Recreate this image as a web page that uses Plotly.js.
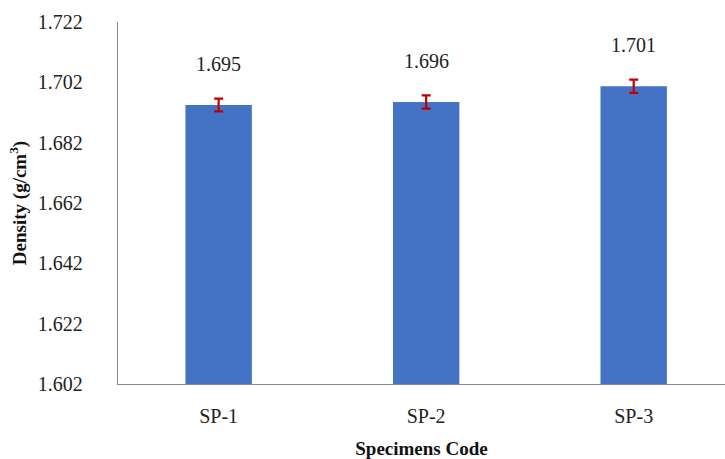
<!DOCTYPE html>
<html><head><meta charset="utf-8">
<script src="https://cdn.plot.ly/plotly-3.0.1.min.js"></script>
<style>html,body{margin:0;padding:0;background:#fff}#c{width:725px;height:459px}</style>
</head><body><div id="c"></div>
<script>
const categories = ['SP-1', 'SP-2', 'SP-3'];
const densities = [1.6945, 1.6955, 1.7007];
const errors = [0.0021, 0.0022, 0.0022];
const labels = ['1.695', '1.696', '1.701'];
const yTicks = [1.602, 1.622, 1.642, 1.662, 1.682, 1.702, 1.722];

const font = "'Liberation Serif', 'Times New Roman', 'DejaVu Serif', serif";
const trace = {
  type: 'bar', x: categories, y: densities, width: 0.32,
  marker: {color: '#4472C4'},
  error_y: {type: 'data', array: errors, visible: true, color: '#C00000', thickness: 2.2, width: 4.5},
  hoverinfo: 'none'
};
const annotations = categories.map((c, i) => ({
  x: c, y: densities[i], text: labels[i], showarrow: false,
  yanchor: 'bottom', yshift: 28, font: {family: font, size: 20, color: '#222'}
}));
const layout = {
  width: 725, height: 459,
  margin: {l: 118, r: 0, t: 22, b: 75},
  paper_bgcolor: '#fff', plot_bgcolor: '#fff',
  showlegend: false,
  font: {family: font, size: 20, color: '#222'},
  xaxis: {
    range: [-0.485, 2.44], showline: true, linecolor: '#8c8c8c', linewidth: 1.3,
    showgrid: false, zeroline: false, ticks: '', ticklabelstandoff: 14,
    tickfont: {family: font, size: 20, color: '#222'},
    title: {text: '<b>Specimens Code</b>', font: {family: font, size: 19, color: '#111'}, standoff: 16}
  },
  yaxis: {
    range: [1.602, 1.722], tickvals: yTicks, ticktext: yTicks.map(v => v.toFixed(3)),
    showline: true, linecolor: '#8c8c8c', linewidth: 1.3, showgrid: false, zeroline: false,
    ticks: '', ticklabelstandoff: 30,
    tickfont: {family: font, size: 20, color: '#222'},
    title: {text: '<b>Density (g/cm<sup>3</sup>)</b>', font: {family: font, size: 19, color: '#111'}, standoff: 6}
  },
  annotations: annotations
};
Plotly.newPlot('c', [trace], layout, {displayModeBar: false, staticPlot: true});
</script></body></html>
